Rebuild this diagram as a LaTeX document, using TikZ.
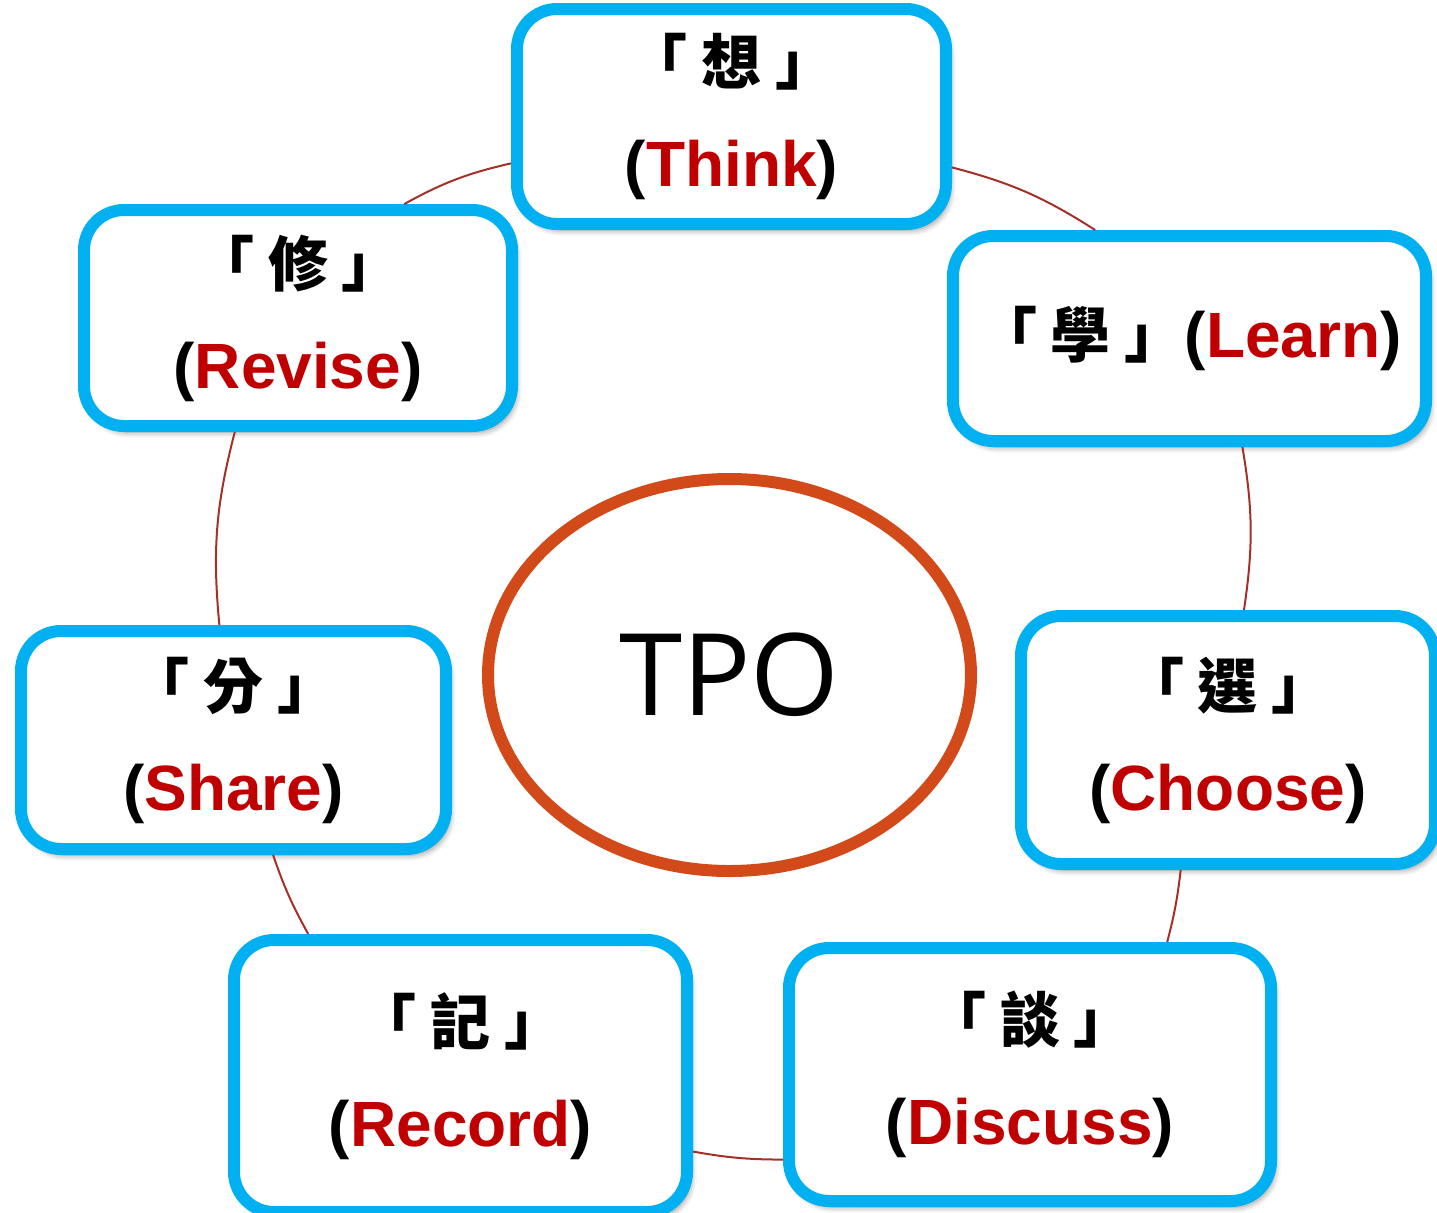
\documentclass[tikz,border=0pt]{standalone}
\usepackage{fontspec}
\setmainfont{Liberation Sans}
\newfontfamily\cjk{Noto Sans CJK TC}
\newfontfamily\tpofont{Open Sans}
\usetikzlibrary{shapes.geometric,shadows.blur}
\definecolor{boxblue}{RGB}{0,176,240}
\definecolor{wordred}{RGB}{192,0,0}
\definecolor{ringred}{RGB}{210,74,26}
\definecolor{linkred}{RGB}{165,48,40}
\newcommand{\zi}[1]{{\cjk\fontsize{30}{51}\selectfont\bfseries 「 #1 」}}
\newcommand{\en}[1]{(\textcolor{wordred}{#1})}

\begin{document}
\begin{tikzpicture}[x=0.5pt,y=-0.5pt,
        stagebox/.style={draw=boxblue,line width=6pt,fill=white,rounded corners=20pt,
                inner sep=0pt,align=center,font=\fontsize{32}{51}\selectfont\bfseries,
                blur shadow={shadow xshift=2pt,shadow yshift=-3pt,shadow blur radius=3pt,shadow opacity=45}},
        link/.style={draw=linkred,line width=1pt}]
        \clip (0,0) rectangle (1437,1212);
        % centre
        \node[ellipse,draw=ringred,line width=6pt,inner sep=0pt,minimum width=241.5pt,minimum height=196pt,
                font=\tpofont\fontsize{57}{60}\selectfont] (tpo) at (729.5,675) {TPO};
        % the seven steps
        \node[stagebox,minimum width=214.5pt,minimum height=107.5pt] (think) at (731.5,116.5) {\zi{想}\\\en{Think}};
        \node[stagebox,minimum width=236.5pt,minimum height=102.5pt] (learn) at (1189.5,338.5) {\zi{學}\en{Learn}};
        \node[stagebox,minimum width=207pt,minimum height=124pt] (choose) at (1228,740) {\zi{選}\\\en{Choose}};
        \node[stagebox,minimum width=241pt,minimum height=126.5pt] (discuss) at (1030,1074.5) {\zi{談}\\\en{Discuss}};
        \node[stagebox,minimum width=226.5pt,minimum height=136pt] (record) at (460.5,1076) {\zi{記}\\\en{Record}};
        \node[stagebox,minimum width=212.5pt,minimum height=109pt] (share) at (233.5,740) {\zi{分}\\\en{Share}};
        \node[stagebox,minimum width=214pt,minimum height=108pt] (revise) at (298,318) {\zi{修}\\\en{Revise}};
        % ring
        \draw[link] (revise.47) to[bend left=8] (think.192);
        \draw[link] (think.347) to[bend left=9] (learn.131);
        \draw[link] (learn.296) to[bend left=9] (choose.83);
        \draw[link] (choose.250) to[bend left=4] (discuss.44);
        \draw[link] (discuss.199) to[bend left=5] (record.342);
        \draw[link] (record.137) to[bend left=5] (share.289);
        \draw[link] (share.97) to[bend left=10] (revise.241);
\end{tikzpicture}
\end{document}
